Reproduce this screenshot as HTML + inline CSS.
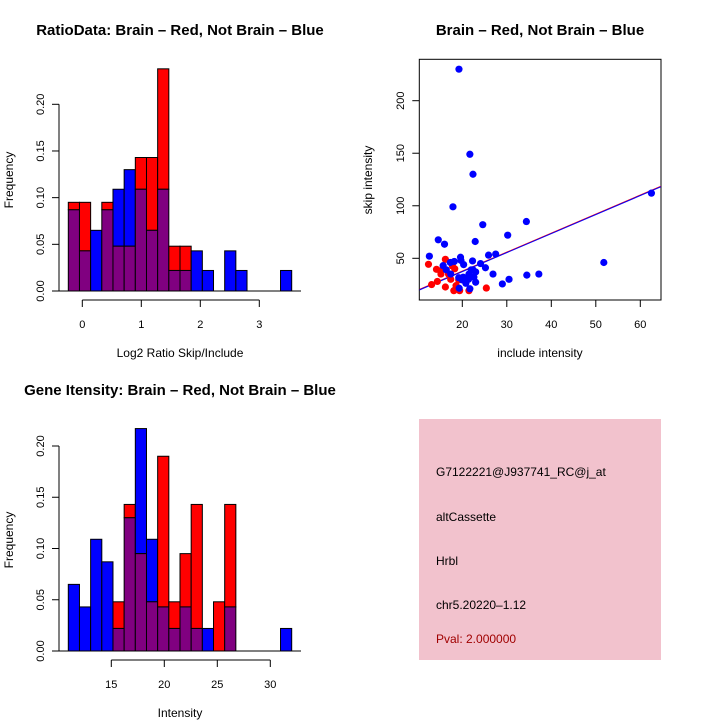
<!DOCTYPE html>
<html><head><meta charset="utf-8"><style>
html,body{margin:0;padding:0;background:#fff;}
svg{display:block;font-family:"Liberation Sans",sans-serif;}
</style></head><body>
<svg id="root" width="720" height="720" viewBox="0 0 720 720">
<rect width="720" height="720" fill="#fff"/>
<g id="p1">
<text x="180" y="35" text-anchor="middle" font-size="15" font-weight="bold">RatioData: Brain – Red, Not Brain – Blue</text>
<text x="180" y="357" text-anchor="middle" font-size="12">Log2 Ratio Skip/Include</text>
<text transform="translate(13,180) rotate(-90)" text-anchor="middle" font-size="12">Frequency</text>
</g>
<g id="p2">
<text x="540" y="35" text-anchor="middle" font-size="15" font-weight="bold">Brain – Red, Not Brain – Blue</text>
<text x="540" y="357" text-anchor="middle" font-size="12">include intensity</text>
<text transform="translate(372,180) rotate(-90)" text-anchor="middle" font-size="12">skip intensity</text>
</g>
<g id="p3">
<text x="180" y="395" text-anchor="middle" font-size="15" font-weight="bold">Gene Itensity: Brain – Red, Not Brain – Blue</text>
<text x="180" y="717" text-anchor="middle" font-size="12">Intensity</text>
<text transform="translate(13,540) rotate(-90)" text-anchor="middle" font-size="12">Frequency</text>
</g>
<g>
<rect x="419" y="419" width="242" height="241" fill="#f2c2cd"/>
<g font-size="12">
<text x="436" y="476">G7122221@J937741_RC@j_at</text>
<text x="436" y="521">altCassette</text>
<text x="436" y="565">Hrbl</text>
<text x="436" y="609">chr5.20220–1.12</text>
<text x="436" y="643" fill="#a00000">Pval: 2.000000</text>
</g>
</g>
</svg>
<script>
const ratioRed=[0.095,0.095,0,0.095,0.048,0.048,0.143,0.143,0.238,0.048,0.048,0,0,0,0,0,0,0,0,0];
const ratioBlue=[0.087,0.043,0.065,0.087,0.109,0.130,0.109,0.065,0.109,0.022,0.022,0.043,0.022,0,0.043,0.022,0,0,0,0.022];
const ratioXTicks=[0,1,2,3];
const ratioYTicks=["0.00","0.05","0.10","0.15","0.20"];
const geneRed=[0,0,0,0,0.048,0.143,0.095,0.048,0.190,0.048,0.095,0.143,0,0.048,0.143,0,0,0,0,0];
const geneBlue=[0.065,0.043,0.109,0.087,0.022,0.130,0.217,0.109,0.043,0.022,0.043,0.022,0.022,0,0.043,0,0,0,0,0.022];
const geneXTicks=[15,20,25,30];
const geneYTicks=["0.00","0.05","0.10","0.15","0.20"];
const blueX=[19.25,21.7,22.4,17.9,24.6,34.4,30.2,22.9,14.6,16.0,12.6,25.9,27.5,19.6,51.8,62.5,22.3,18.2,17.3,24.1,25.2,20.3,19.7,15.7,16.4,17.4,26.9,37.2,34.5,30.5,29.0,23.0,19.3,21.7,23.0,22.0,21.5,22.6,20.2,19.2,20.8,21.4,20.0,22.4];
const blueY=[230,149,130,99,82,85,72,66,67.6,63.4,52,53,54,51,46,112,47.5,47,46,45,41,44,48,43,39,35,35,35,34,30,25.6,27.2,21.5,21,37,39,35,32,32,31.5,26.2,30,29.4,39];
const redX=[12.4,13.1,14.4,14.2,15.1,15.2,16.2,16.2,17.4,16.9,17.8,18.3,18.1,18.6,19.4,21.5,25.4,19.2];
const redY=[44.3,25,28,39.5,38,35,49,22.7,30,35,42.6,40,19.2,24,19.2,19.2,21.7,29.4];
const scatterXTicks=[20,30,40,50,60];
const scatterYTicks=[50,100,150,200];
const fitIntercept=1.1, fitSlope=1.81;

const NS="http://www.w3.org/2000/svg";
function mk(parent,tag,attrs){const e=document.createElementNS(NS,tag);for(const k in attrs)e.setAttribute(k,attrs[k]);parent.appendChild(e);return e;}

function histogram(gid,prefix,red,blue,x0,binW,xScale,y0,yScale,xTicks,yTicks,axisY,labelY){
  const g=document.getElementById(gid);
  const n=red.length;
  const px=v=>x0+(v)*binW;
  for(let i=0;i<n;i++){
    const r=red[i],b=blue[i],lo=Math.min(r,b),hi=Math.max(r,b);
    if(hi<=0)continue;
    const xl=px(i);
    if(hi>lo){
      const top=mk(g,'rect',{x:xl,y:y0-hi*yScale,width:binW,height:(hi-lo)*yScale,fill:(r>b?'#ff0000':'#0000ff'),stroke:'#000','stroke-width':1});
      
      
    }
    if(lo>0){
      const ov=mk(g,'rect',{x:xl,y:y0-lo*yScale,width:binW,height:lo*yScale,fill:'#800080',stroke:'#000','stroke-width':1});
      
      
    }
  }
  const bl=mk(g,'line',{x1:59,x2:301,y1:y0,y2:y0,stroke:'#000','stroke-width':1});
  
  
  const yTop=y0-Number(yTicks[yTicks.length-1])*yScale;
  const ya=mk(g,'line',{x1:59,x2:59,y1:y0,y2:yTop,stroke:'#000'});
  
  
  yTicks.forEach(t=>{
    const y=y0-Number(t)*yScale;
    mk(g,'line',{x1:52,x2:59,y1:y,y2:y,stroke:'#000'});
    const tx=mk(g,'text',{transform:`translate(44,${y}) rotate(-90)`,'text-anchor':'middle','font-size':11});
    tx.textContent=t;
    
    
  });
  const xa=mk(g,'line',{x1:xScale(xTicks[0]),x2:xScale(xTicks[xTicks.length-1]),y1:axisY,y2:axisY,stroke:'#000'});
  
  
  xTicks.forEach(t=>{
    const x=xScale(t);
    mk(g,'line',{x1:x,x2:x,y1:axisY,y2:axisY+7,stroke:'#000'});
    const tx=mk(g,'text',{x:x,y:labelY,'text-anchor':'middle','font-size':11});
    tx.textContent=String(t);
    
    
  });
}
histogram('p1','ratio',ratioRed,ratioBlue,68.3,11.17,v=>82.3+v*59,291,933.5,ratioXTicks,ratioYTicks,300,328);
histogram('p3','gene',geneRed,geneBlue,68.3,11.17,v=>111.3+(v-15)*10.6,651,1025,geneXTicks,geneYTicks,660,688);

(function(){
  const g=document.getElementById('p2');
  const L=419.3,R=661,T=59.3,B=300;
  const sx=v=>462.3+(v-20)*4.45, sy=v=>258.3-(v-50)*1.0507;
  mk(g,'defs',{}).innerHTML='<clipPath id="sc"><rect x="'+L+'" y="'+T+'" width="'+(R-L)+'" height="'+(B-T)+'"/></clipPath>';
  const box=mk(g,'rect',{x:L,y:T,width:R-L,height:B-T,fill:'none',stroke:'#000'});
  
  
  const xmin=(L-462.3)/4.45+20, xmax=(R-462.3)/4.45+20;
  const cl=mk(g,'g',{'clip-path':'url(#sc)'});
  const f1=mk(cl,'line',{x1:sx(xmin),y1:sy(fitIntercept+fitSlope*xmin)-0.5,x2:sx(xmax),y2:sy(fitIntercept+fitSlope*xmax)-0.5,stroke:'#ff0000'});
  
  
  const f2=mk(cl,'line',{x1:sx(xmin),y1:sy(fitIntercept+fitSlope*xmin),x2:sx(xmax),y2:sy(fitIntercept+fitSlope*xmax),stroke:'#0000ff'});
  
  
  redX.forEach((x,i)=>{
    const c=mk(g,'circle',{cx:sx(x),cy:sy(redY[i]),r:3.6,fill:'#ff0000'});
    
    
  });
  blueX.forEach((x,i)=>{
    const c=mk(g,'circle',{cx:sx(x),cy:sy(blueY[i]),r:3.6,fill:'#0000ff'});
    
    
  });
  scatterXTicks.forEach(t=>{
    const x=sx(t);
    mk(g,'line',{x1:x,x2:x,y1:B,y2:B+7,stroke:'#000'});
    const tx=mk(g,'text',{x:x,y:328,'text-anchor':'middle','font-size':11});
    tx.textContent=String(t);
    
    
  });
  scatterYTicks.forEach(t=>{
    const y=sy(t);
    mk(g,'line',{x1:L-7,x2:L,y1:y,y2:y,stroke:'#000'});
    const tx=mk(g,'text',{transform:`translate(404,${y}) rotate(-90)`,'text-anchor':'middle','font-size':11});
    tx.textContent=String(t);
    
    
  });
})();
</script>
</body></html>
